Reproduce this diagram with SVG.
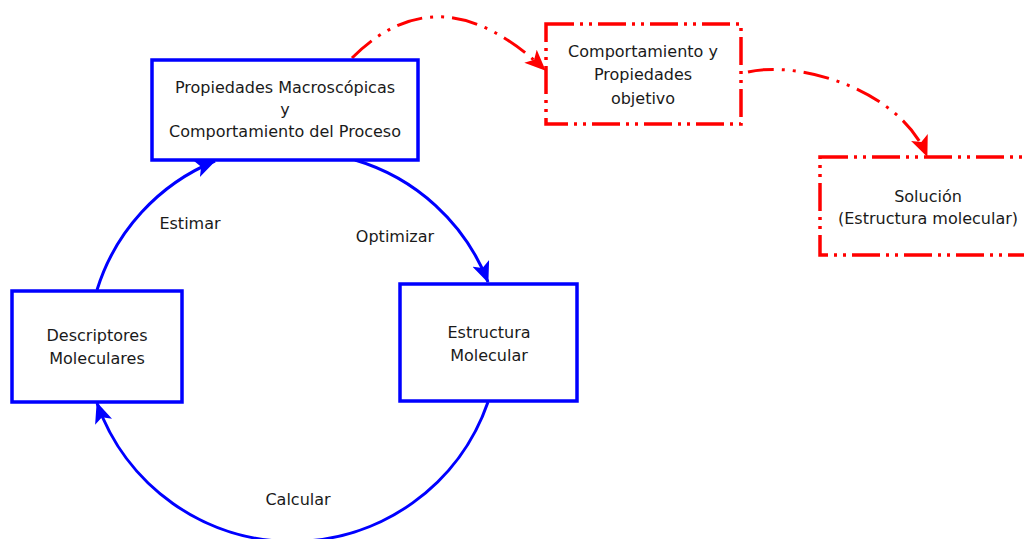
<svg xmlns="http://www.w3.org/2000/svg" width="1024" height="539" viewBox="0 0 1024 539">
  <style>
    .blue-box { fill: #ffffff; stroke: #0000ff; stroke-width: 3.5; }
    .red-box { fill: #ffffff; stroke: #ff0000; stroke-width: 3.5; stroke-dasharray: 28 6 3 6 3 6; }
    .blue-edge { fill: none; stroke: #0000ff; stroke-width: 3; }
    .red-edge { fill: none; stroke: #ff0000; stroke-width: 3; stroke-dasharray: 26 8 3 8 3 8; }
    text { font-family: "DejaVu Sans", Verdana, sans-serif; font-size: 16px; fill: #1a1a1a; text-anchor: middle; }
  </style>
  <defs>
    <marker id="arrow-blue" markerUnits="userSpaceOnUse" markerWidth="22" markerHeight="18" viewBox="0 0 22 18" refX="20" refY="9" orient="auto">
      <path d="M0,0 L21,9 L0,18 L5,9 z" fill="#0000ff"/>
    </marker>
    <marker id="arrow-red" markerUnits="userSpaceOnUse" markerWidth="22" markerHeight="18" viewBox="0 0 22 18" refX="20" refY="9" orient="auto">
      <path d="M0,0 L21,9 L0,18 L5,9 z" fill="#ff0000"/>
    </marker>
  </defs>

  <g id="connectors">
    <path id="edge-estimar" class="blue-edge" d="M97,290 A205,205 0 0 1 215,161" marker-end="url(#arrow-blue)"/>
    <path id="edge-optimizar" class="blue-edge" d="M355,160 A205,205 0 0 1 488,282" marker-end="url(#arrow-blue)"/>
    <path id="edge-calcular" class="blue-edge" d="M488,402 A207,207 0 0 1 97,403" marker-end="url(#arrow-blue)"/>
    <path id="edge-objetivo" class="red-edge" d="M352,58 Q440,-30 545,70" marker-end="url(#arrow-red)"/>
    <path id="edge-solucion" class="red-edge" d="M748,72 C800,60 900,90 927,156" marker-end="url(#arrow-red)"/>
    <text x="190" y="229">Estimar</text>
    <text x="395" y="242">Optimizar</text>
    <text x="298" y="505">Calcular</text>
  </g>

  <g id="node-propiedades">
    <rect class="blue-box" x="152" y="60" width="266" height="100"/>
    <text x="285" y="93">Propiedades Macroscópicas</text>
    <text x="285" y="115">y</text>
    <text x="285" y="137">Comportamiento del Proceso</text>
  </g>

  <g id="node-descriptores">
    <rect class="blue-box" x="12" y="291" width="170" height="111"/>
    <text x="97" y="341">Descriptores</text>
    <text x="97" y="364">Moleculares</text>
  </g>

  <g id="node-estructura">
    <rect class="blue-box" x="400" y="284" width="177" height="117"/>
    <text x="489" y="338">Estructura</text>
    <text x="489" y="361">Molecular</text>
  </g>

  <g id="node-objetivo">
    <rect class="red-box" x="546" y="24" width="195" height="100"/>
    <text x="643" y="57">Comportamiento y</text>
    <text x="643" y="80">Propiedades</text>
    <text x="643" y="104">objetivo</text>
  </g>

  <g id="node-solucion">
    <rect class="red-box" x="820" y="157" width="215" height="98"/>
    <text x="928" y="202">Solución</text>
    <text x="928" y="224">(Estructura molecular)</text>
  </g>
</svg>
